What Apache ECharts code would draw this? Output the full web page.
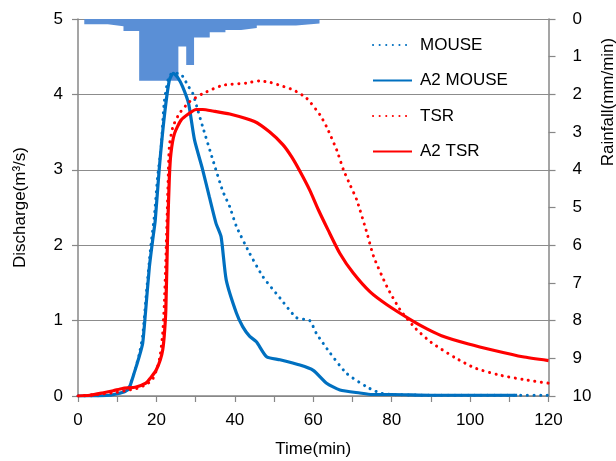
<!DOCTYPE html>
<html><head><meta charset="utf-8">
<script src="https://cdn.jsdelivr.net/npm/echarts@6/dist/echarts.min.js"></script>
<style>html,body{margin:0;padding:0;background:#fff}#c{width:616px;height:461px}</style>
</head><body><div id="c"></div>
<script>
// Time (min) / Discharge (m3/s) samples
const mouseT = [0, 8, 12, 13, 14.3, 15.6, 16.5, 17.5, 18.5, 19.5, 20.3, 21.2, 22, 23, 24, 25.5, 26.7, 28, 29.3, 30.5, 31.8, 34.4, 36.9, 38.7, 40.4, 43.8, 47.2, 51.5, 55.7, 59.1, 60.8, 64.3, 68.5, 73.7, 77, 80, 90, 100, 110, 120];
const mouseQ = [0, 0.01, 0.07, 0.12, 0.30, 0.55, 0.80, 1.40, 1.95, 2.40, 2.90, 3.30, 3.90, 4.20, 4.28, 4.28, 4.24, 4.12, 4.01, 3.80, 3.57, 3.13, 2.72, 2.51, 2.25, 1.89, 1.58, 1.30, 1.04, 1.00, 0.83, 0.57, 0.30, 0.12, 0.04, 0.02, 0.01, 0.01, 0.01, 0.01];

const a2mouseT = [0, 5, 8, 10, 12, 13, 14.3, 15.6, 16.5, 17.2, 18.2, 19, 19.7, 20.7, 22, 23.3, 24.3, 25.5, 26.7, 28.2, 29.7, 31.8, 33.5, 35.2, 36.5, 37.8, 40.4, 42, 43.8, 45.5, 48.1, 51.5, 56.6, 60, 63.4, 66.8, 71.9, 75, 80, 90, 100, 112];
const a2mouseQ = [0, 0, 0.01, 0.03, 0.06, 0.10, 0.30, 0.52, 0.70, 1.10, 1.71, 2.05, 2.33, 3.00, 3.70, 4.19, 4.28, 4.22, 4.10, 3.88, 3.40, 3.00, 2.64, 2.29, 2.11, 1.54, 1.10, 0.92, 0.79, 0.72, 0.52, 0.48, 0.41, 0.34, 0.17, 0.08, 0.04, 0.02, 0.02, 0.01, 0.01, 0.01];

const tsrT = [0, 5, 10, 13, 15, 17.3, 19, 20.3, 21, 21.6, 22, 22.4, 22.9, 23.3, 24.2, 25.9, 28.4, 31.8, 36.9, 42.9, 46.3, 49, 51.5, 54.9, 58.3, 61.7, 63.4, 66, 67.7, 69.4, 71.1, 73.7, 75.4, 78.8, 82.2, 86.2, 90.1, 96.1, 101.3, 107.3, 113.4, 120];
const tsrQ = [0, 0.02, 0.05, 0.08, 0.10, 0.15, 0.22, 0.39, 0.55, 0.83, 1.20, 1.80, 2.69, 3.31, 3.57, 3.75, 3.90, 4.01, 4.12, 4.15, 4.18, 4.16, 4.12, 4.06, 3.95, 3.73, 3.57, 3.26, 3.00, 2.80, 2.60, 2.16, 1.85, 1.45, 1.14, 0.89, 0.71, 0.51, 0.37, 0.28, 0.22, 0.17];

const a2tsrT = [0, 3, 6.2, 9, 11.3, 14.8, 17.3, 18.5, 19.9, 21, 21.6, 22, 22.4, 22.9, 23.3, 23.7, 24.6, 26.3, 28.4, 30.1, 31.8, 34.4, 38.7, 45, 48.9, 52.3, 54.5, 56.6, 59.1, 61.3, 63.8, 66.8, 70.2, 74.5, 78.8, 85.2, 89, 92.7, 99.6, 106.5, 113.4, 120];
const a2tsrQ = [0, 0.01, 0.04, 0.07, 0.10, 0.12, 0.17, 0.24, 0.34, 0.48, 0.61, 0.80, 1.14, 2.25, 2.90, 3.22, 3.48, 3.66, 3.75, 3.80, 3.80, 3.78, 3.74, 3.64, 3.50, 3.33, 3.17, 2.98, 2.73, 2.47, 2.20, 1.89, 1.63, 1.38, 1.21, 1.00, 0.89, 0.80, 0.69, 0.60, 0.52, 0.47];

// Rainfall (mm/min): step start times and intensities (last point closes the step)
const rainT = [1.6, 7.6, 11.6, 15.6, 25.6, 27.6, 29.6, 33.6, 37.6, 41.6, 45.6, 55.6, 61.6];
const rainV = [0.14, 0.19, 0.32, 1.64, 0.73, 1.22, 0.49, 0.35, 0.29, 0.24, 0.17, 0.12, 0.12];

const seriesNames = ['MOUSE', 'A2 MOUSE', 'TSR', 'A2 TSR'];

function zip(a, b) { return a.map((t, i) => [t, b[i]]); }

const BLUE = '#0070C0', RED = '#FF0000', RAIN = '#5A8FD6', AXIS = '#878787';
const FONT = 'Liberation Sans, Arial, Helvetica, sans-serif';
const dotted = (c) => ({ color: c, width: 3, type: [0.1, 6.5], cap: 'round' });
const solid = (c) => ({ color: c, width: 3.2 });
const lineCommon = { type: 'line', symbol: 'none', showSymbol: false, smooth: 0.2 };

const chart = echarts.init(document.getElementById('c'), null, { renderer: 'canvas' });
chart.setOption({
  animation: false,
  backgroundColor: '#fff',
  textStyle: { fontFamily: FONT },
  grid: { left: 78, right: 67.5, top: 19, bottom: 65, containLabel: false, outerBoundsMode: 'none' },
  legend: {
    data: seriesNames,
    orient: 'vertical',
    left: 372, top: 36.5, padding: 0,
    itemWidth: 39, itemHeight: 17, itemGap: 18.5,
    itemStyle: { opacity: 0 },
    textStyle: { fontSize: 17, color: '#000', fontFamily: FONT, padding: [0, 0, 0, 3] }
  },
  graphic: [{
    type: 'text', x: 608, y: 102, rotation: Math.PI / 2,
    style: { text: 'Rainfall(mm/min)', font: '17px ' + FONT, fill: '#000', align: 'center', verticalAlign: 'middle' }
  }],
  xAxis: {
    type: 'value', min: 0, max: 120, interval: 10,
    name: 'Time(min)', nameLocation: 'middle', nameGap: 45,
    nameTextStyle: { fontSize: 17, color: '#000', fontFamily: FONT },
    axisLine: { lineStyle: { color: AXIS, width: 1.5 } },
    axisTick: { show: true, length: 6, lineStyle: { color: AXIS, width: 1.2 } },
    axisLabel: { fontSize: 17, color: '#000', margin: 16, fontFamily: FONT,
      formatter: v => (v % 20 === 0 ? String(v) : '') },
    splitLine: { show: false }
  },
  yAxis: [{
    type: 'value', min: 0, max: 5, interval: 1,
    name: 'Discharge(m³/s)', nameLocation: 'middle', nameGap: 49, nameRotate: 90,
    nameTextStyle: { fontSize: 17, color: '#000', fontFamily: FONT },
    axisLine: { show: true, lineStyle: { color: AXIS, width: 1.5 } },
    axisTick: { show: true, length: 6, lineStyle: { color: AXIS, width: 1.2 } },
    axisLabel: { fontSize: 17, color: '#000', margin: 15, fontFamily: FONT },
    splitLine: { show: true, lineStyle: { color: '#8c8c8c', width: 1.2 } }
  }, {
    type: 'value', min: 0, max: 10, interval: 1, inverse: true, position: 'right',
    axisLine: { show: true, lineStyle: { color: AXIS, width: 1.5 } },
    axisTick: { show: true, length: 7, lineStyle: { color: AXIS, width: 1.2 } },
    axisLabel: { fontSize: 17, color: '#000', margin: 24, fontFamily: FONT },
    splitLine: { show: false }
  }],
  series: [{
    name: 'Rainfall', type: 'line', yAxisIndex: 1, step: 'end',
    data: zip(rainT, rainV), symbol: 'none', z: 1,
    lineStyle: { width: 0, color: RAIN },
    areaStyle: { color: RAIN, opacity: 1 }
  }, Object.assign({}, lineCommon, {
    name: 'MOUSE', data: zip(mouseT, mouseQ), lineStyle: dotted(BLUE), itemStyle: { color: BLUE }, z: 3
  }), Object.assign({}, lineCommon, {
    name: 'A2 MOUSE', data: zip(a2mouseT, a2mouseQ), lineStyle: solid(BLUE), itemStyle: { color: BLUE }, z: 3
  }), Object.assign({}, lineCommon, {
    name: 'TSR', data: zip(tsrT, tsrQ), lineStyle: dotted(RED), itemStyle: { color: RED }, z: 4
  }), Object.assign({}, lineCommon, {
    name: 'A2 TSR', data: zip(a2tsrT, a2tsrQ), lineStyle: solid(RED), itemStyle: { color: RED }, z: 4
  })]
});
</script>
</body></html>
